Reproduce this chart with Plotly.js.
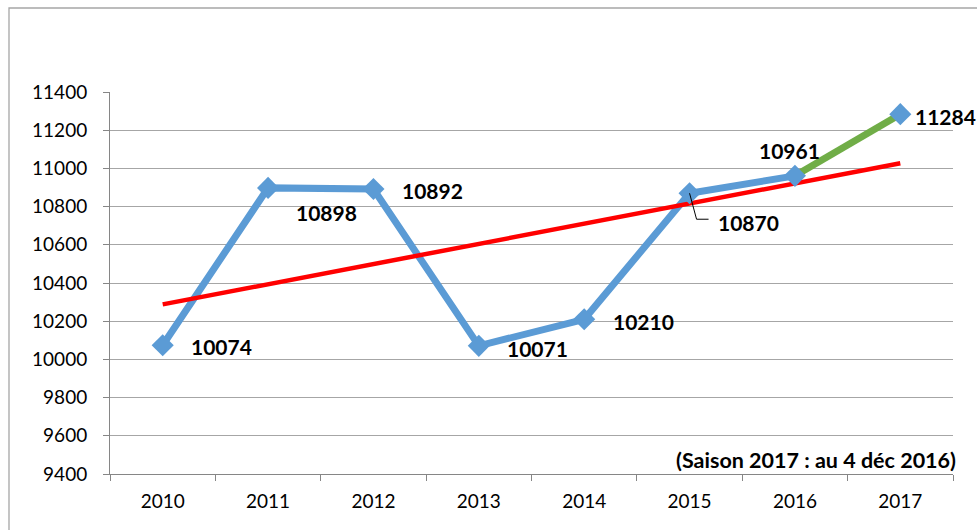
<!DOCTYPE html>
<html><head><meta charset="utf-8">
<script src="https://cdn.plot.ly/plotly-3.0.1.min.js"></script>
<style>html,body{margin:0;padding:0;background:#fff;}#chart{width:977px;height:530px;}</style>
</head><body><div id="chart"></div>
<script>
const years = ['2010','2011','2012','2013','2014','2015','2016','2017'];
const visitors = [10074, 10898, 10892, 10071, 10210, 10870, 10961, 11284];
const trendYears = ['2010','2017'];
const trendValues = [10288, 11027];
const yTicks = [9400,9600,9800,10000,10200,10400,10600,10800,11000,11200,11400];
const note = '(Saison 2017 : au 4 déc 2016)';

const blue = '#5B9BD5', green = '#70AD47', red = '#FF0000';
const fam = 'Lato, "Open Sans", sans-serif';
const labelFont = {family:fam, size:21, color:'#000'};

// label offsets in pixels (xshift, yshift)
const labelShift = [[59,-1],[58,-25],[59,-1],[59,-3],[59,-2],[59,-29],[-5,25],[45,-2]];

const traces = [
  {x: years.slice(0,7), y: visitors.slice(0,7), mode:'lines', line:{color:blue,width:7}, hoverinfo:'skip'},
  {x: years.slice(6), y: visitors.slice(6), mode:'lines', line:{color:green,width:7}, hoverinfo:'skip'},
  {x: trendYears, y: trendValues, mode:'lines', line:{color:red,width:4.5}, hoverinfo:'skip'},
  {x: years, y: visitors, mode:'markers', marker:{symbol:'diamond', size:17, color:blue}, hoverinfo:'skip'}
];

const annotations = visitors.map((v,i)=>({
  x:i, y:v, xref:'x', yref:'y', text:'<b>'+v+'</b>', showarrow:false,
  xshift:labelShift[i][0], yshift:labelShift[i][1], font:labelFont
}));
annotations.push({x:1.006, y:0.037, xref:'paper', yref:'paper', xanchor:'right', yanchor:'middle',
  text:'<b>'+note+'</b>', showarrow:false, font:{family:fam, size:21.5, color:'#000'}});

const layout = {
  width:977, height:530,
  margin:{l:110, r:24, t:92, b:56},
  paper_bgcolor:'#fff', plot_bgcolor:'#fff',
  showlegend:false,
  font:{family:fam, size:18, color:'#000'},
  xaxis:{type:'category', range:[-0.5,7.5], showgrid:false, showline:true, linecolor:'#868686', linewidth:1,
    ticks:'outside', ticklen:6, tickcolor:'#868686', tickson:'boundaries', tickfont:{size:19}, ticklabelstandoff:10,
    fixedrange:true, zeroline:false},
  yaxis:{range:[9400,11400], tickvals:yTicks, ticktext:yTicks.map(String), showgrid:true, gridcolor:'#A6A6A6', gridwidth:1,
    showline:true, linecolor:'#868686', linewidth:1, ticks:'outside', ticklen:6, tickcolor:'#868686', tickfont:{size:19},
    ticklabelstandoff:12, zeroline:false, fixedrange:true},
  annotations: annotations,
  shapes:[
    {type:'rect', xref:'paper', yref:'paper', x0:(9-110)/843, x1:1.2, y0:-0.3, y1:1+(92-8)/382,
      line:{color:'#A6A6A6', width:1.3}, fillcolor:'rgba(0,0,0,0)', layer:'below'},
    {type:'line', xref:'x', yref:'y', xsizemode:'pixel', ysizemode:'pixel', xanchor:5, yanchor:visitors[5],
      x0:0, y0:0, x1:7, y1:-26, line:{color:'#000', width:1}},
    {type:'line', xref:'x', yref:'y', xsizemode:'pixel', ysizemode:'pixel', xanchor:5, yanchor:visitors[5],
      x0:7, y0:-26, x1:19, y1:-26, line:{color:'#000', width:1}}
  ]
};
Plotly.newPlot('chart', traces, layout, {displayModeBar:false, staticPlot:true});
</script></body></html>
